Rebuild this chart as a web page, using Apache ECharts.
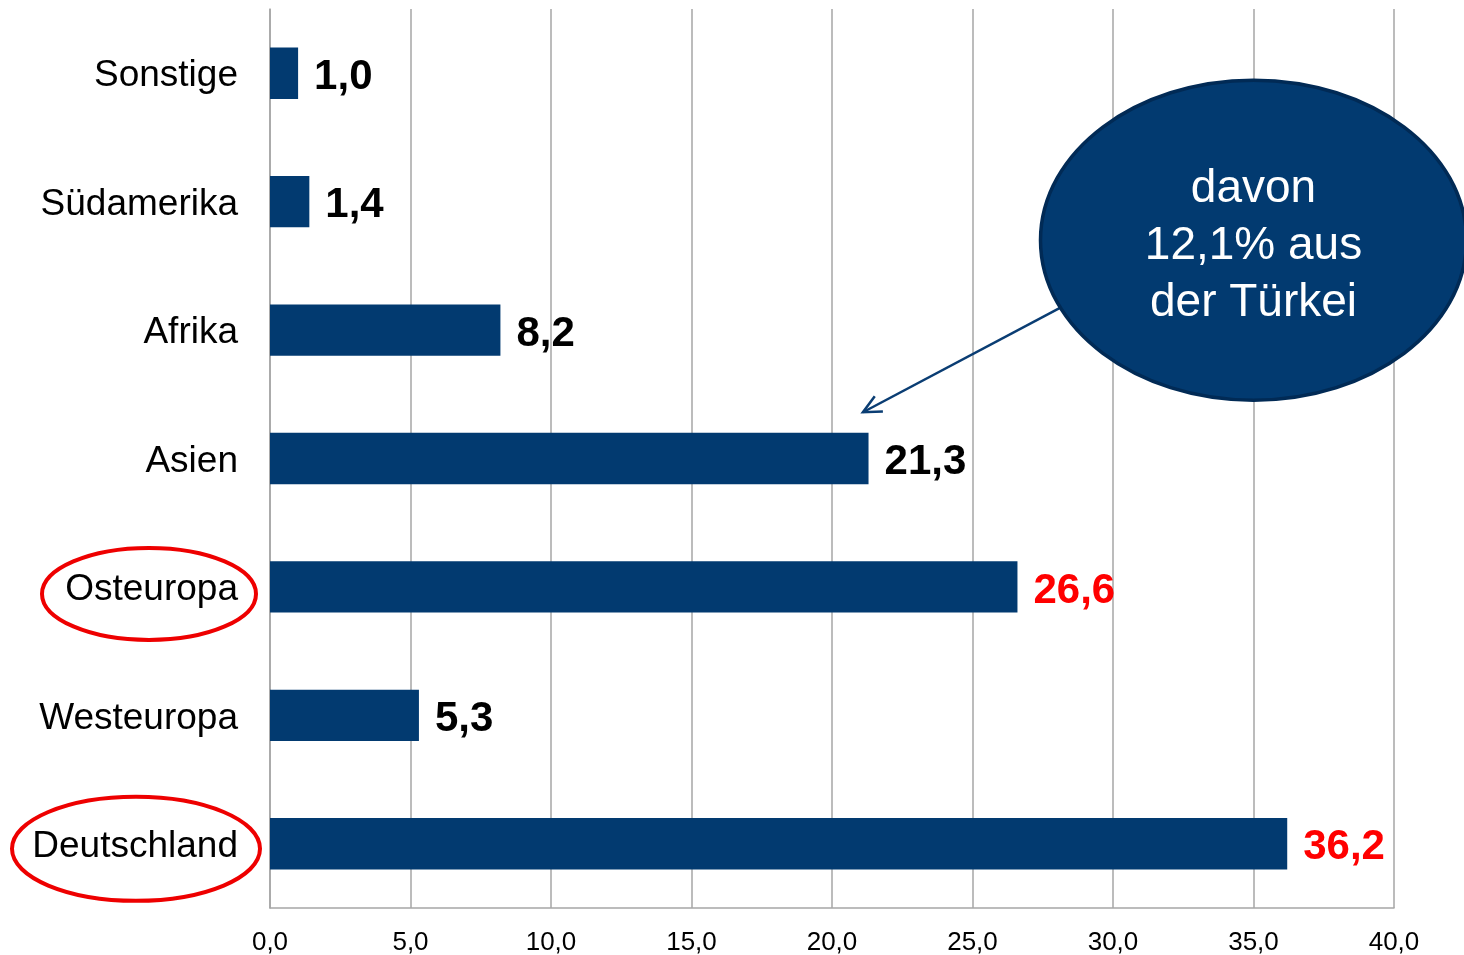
<!DOCTYPE html>
<html>
<head>
<meta charset="utf-8">
<title>Herkunft</title>
<script src="https://cdn.jsdelivr.net/npm/echarts@6/dist/echarts.min.js"></script>
<style>
  html, body { margin: 0; padding: 0; background: #ffffff; }
  #chart { width: 1464px; height: 955px; }
</style>
</head>
<body>
<div id="chart"></div>
<script>
// Regions, listed bottom to top as the category axis draws them
const regions = ['Deutschland', 'Westeuropa', 'Osteuropa', 'Asien', 'Afrika', 'Südamerika', 'Sonstige'];
// Share in percent per region
const shares = [36.2, 5.3, 26.6, 21.3, 8.2, 1.4, 1.0];
// Regions whose value label is shown in red and whose name is circled
const highlighted = ['Deutschland', 'Osteuropa'];
// Value axis ticks
const axisMin = 0;
const axisMax = 40;
const axisStep = 5;
// Callout text
const calloutLines = ['davon', '12,1% aus', 'der Türkei'];

const FONT = '"Liberation Sans", Arial, Helvetica, sans-serif';
const BAR = '#023a70';
const fmt = v => v.toFixed(1).replace('.', ',');

const chart = echarts.init(document.getElementById('chart'), null, { renderer: 'canvas' });

chart.setOption({
  backgroundColor: '#ffffff',
  animation: false,
  grid: { left: 270, right: 70, top: 9, bottom: 47, containLabel: false, outerBoundsMode: 'none' },
  xAxis: {
    type: 'value',
    min: axisMin,
    max: axisMax,
    interval: axisStep,
    axisLine: { show: true, lineStyle: { color: '#a6a6a6', width: 1.5 } },
    axisTick: { show: false },
    splitLine: { show: true, lineStyle: { color: '#a6a6a6', width: 1.5 } },
    axisLabel: {
      color: '#000000', fontFamily: FONT, fontSize: 26, margin: 22,
      formatter: v => fmt(v)
    }
  },
  yAxis: {
    type: 'category',
    data: regions,
    axisLine: { show: true, lineStyle: { color: '#a6a6a6', width: 1.5 } },
    axisTick: { show: false },
    splitLine: { show: false },
    axisLabel: {
      color: '#000000', fontFamily: FONT, fontSize: 37, margin: 32,
      formatter: v => '{n|' + v + '}',
      rich: { n: { fontFamily: FONT, fontSize: 37, color: '#000000', padding: [6, 0, 0, 0] } }
    }
  },
  series: [{
    type: 'bar',
    data: shares.map((v, i) => ({
      value: v,
      label: { color: highlighted.includes(regions[i]) ? '#ff0000' : '#000000' }
    })),
    barWidth: '40%',
    itemStyle: { color: BAR },
    label: {
      show: true,
      position: 'right',
      distance: 16,
      offset: [0, 4],
      fontFamily: FONT,
      fontSize: 42,
      fontWeight: 'bold',
      formatter: p => fmt(p.value)
    }
  }]
});

// Annotation layer: callout bubble with arrow, red rings round highlighted names
function drawAnnotations() {
  const px = (x, cat) => chart.convertToPixel({ gridIndex: 0 }, [x, cat]);
  const axisX = px(0, regions[0])[0];
  const yAsien = px(0, 'Asien')[1];
  const yAfrika = px(0, 'Afrika')[1];
  const ySued = px(0, 'Südamerika')[1];
  const band = yAfrika - ySued;

  const bubbleCenter = px(35.0, 'Afrika');
  const cx = bubbleCenter[0];
  const cy = yAfrika - band * 0.7;
  const tip = px(21.1, 'Asien');
  const tipY = yAsien - band * 0.36;

  const elements = [];
  // arrow shaft and head
  const start = [cx - 194, cy + 68];
  const ang = Math.atan2(start[1] - tipY, start[0] - tip[0]);
  const head = 20, spread = 0.45;
  elements.push({
    type: 'line', z: 10,
    shape: { x1: start[0], y1: start[1], x2: tip[0], y2: tipY },
    style: { stroke: '#0a3d73', lineWidth: 2.5 }
  });
  elements.push({
    type: 'polyline', z: 10,
    shape: { points: [
      [tip[0] + head * Math.cos(ang + spread), tipY + head * Math.sin(ang + spread)],
      [tip[0], tipY],
      [tip[0] + head * Math.cos(ang - spread), tipY + head * Math.sin(ang - spread)]
    ] },
    style: { stroke: '#0a3d73', lineWidth: 2.5, fill: null }
  });
  // bubble
  elements.push({
    type: 'ellipse', z: 11,
    shape: { cx: cx, cy: cy, rx: 213, ry: 160 },
    style: { fill: '#023a70', stroke: '#012a55', lineWidth: 3.5 }
  });
  elements.push({
    type: 'text', z: 12,
    x: cx, y: cy + 6,
    style: {
      text: calloutLines.join('\n'),
      fill: '#ffffff',
      font: '46px ' + FONT,
      lineHeight: 57,
      align: 'center',
      verticalAlign: 'middle'
    }
  });
  // red rings round highlighted region names
  const rings = { 'Osteuropa': { dx: -121, rx: 107, ry: 46, dy: 7 },
                  'Deutschland': { dx: -134, rx: 124, ry: 52, dy: 5 } };
  highlighted.forEach(name => {
    const r = rings[name];
    const y = px(0, name)[1];
    elements.push({
      type: 'ellipse', z: 12,
      shape: { cx: axisX + r.dx, cy: y + r.dy, rx: r.rx, ry: r.ry },
      style: { fill: null, stroke: '#ee0000', lineWidth: 4 }
    });
  });

  chart.setOption({ graphic: { elements: elements } });
}

drawAnnotations();
</script>
</body>
</html>
